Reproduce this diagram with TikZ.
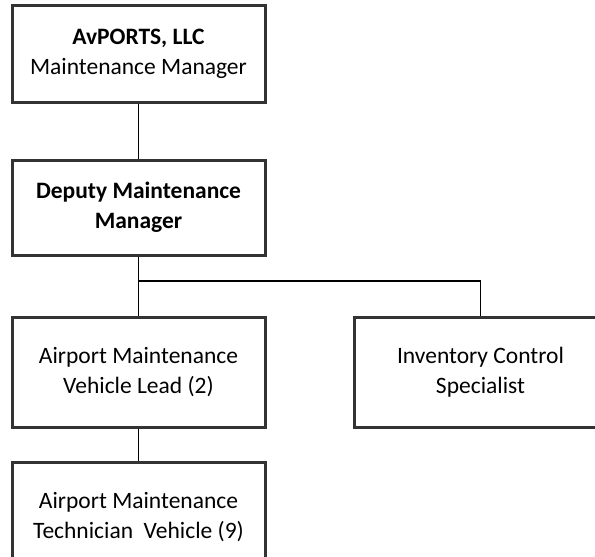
\documentclass[tikz,border=0pt]{standalone}
\usepackage{fontspec}
\setmainfont{Carlito}
\begin{document}
\begin{tikzpicture}[x=1pt,y=-1pt]
\tikzset{box/.style={draw=black!80, line width=3pt, minimum width=253pt, align=center, font=\fontsize{23.5}{30}\selectfont}}
\useasboundingbox (0,0) rectangle (595,557);
\node[box, minimum height=97pt] (1) at (138.5,53.5) {\textbf{AvPORTS, LLC}\\Maintenance Manager};
\node[box, minimum height=95pt] (2) at (138.5,207.5) {\textbf{Deputy Maintenance}\\\textbf{Manager}};
\node[box, minimum height=110pt] (3) at (138.5,372) {Airport Maintenance\\Vehicle Lead (2)};
\node[box, minimum height=110pt] (4) at (480.5,372) {Inventory Control\\Specialist};
\node[box, minimum height=110pt] (5) at (138.5,517) {Airport Maintenance\\Technician\ \ Vehicle (9)};
\coordinate (b) at (138.5,281);

\path[draw,line width=1.5pt,-] (1) -- (2);
\path[draw,line width=1.5pt,-] (2) -- (b);
\path[draw,line width=1.5pt,-] (b) -- (3);
\path[draw,line width=1.5pt,-] (b) -| (4);
\path[draw,line width=1.5pt,-] (3) -- (5);
\end{tikzpicture}
\end{document}
